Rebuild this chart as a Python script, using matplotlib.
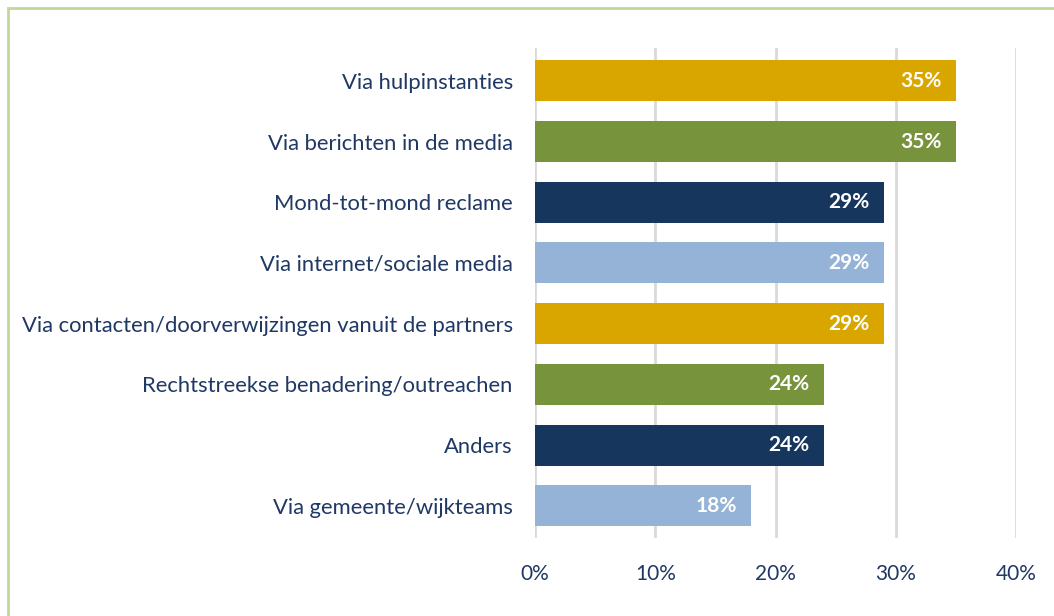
import matplotlib.pyplot as plt
from matplotlib.patches import Rectangle

# Data
categories = ['Via hulpinstanties', 'Via berichten in de media', 'Mond-tot-mond reclame',
              'Via internet/sociale media', 'Via contacten/doorverwijzingen vanuit de partners',
              'Rechtstreekse benadering/outreachen', 'Anders', 'Via gemeente/wijkteams']
values = [0.35, 0.35, 0.29, 0.29, 0.29, 0.24, 0.24, 0.18]
colors = ['#D9A600', '#77933C', '#17365D', '#95B3D7', '#D9A600', '#77933C', '#17365D', '#95B3D7']
ticks = [0, 0.1, 0.2, 0.3, 0.4]
tick_labels = ['0%', '10%', '20%', '30%', '40%']

plt.rcParams['font.family'] = ['Lato', 'DejaVu Sans']
text_color = '#1F3864'

fig = plt.figure(figsize=(10.54, 6.16), dpi=100)
ax = fig.add_axes([535 / 1054, 1 - 538 / 616, (1016 - 535) / 1054, (538 - 48) / 616])

pos = list(range(len(categories)))
ax.barh(pos, values, height=0.675, color=colors, zorder=3)
for p, v in zip(pos, values):
    ax.text(v - 0.012, p, f'{round(v * 100)}%', ha='right', va='center',
            color='white', fontsize=15, fontweight='bold', zorder=4)

ax.set_ylim(7.53, -0.54)
ax.set_xlim(0, 0.4)
ax.set_yticks(pos)
ax.set_yticklabels(categories, fontsize=15.8, color=text_color)
ax.set_xticks(ticks)
ax.set_xticklabels(tick_labels, fontsize=15, color=text_color)
ax.tick_params(axis='both', length=0)
ax.tick_params(axis='y', pad=16)
ax.tick_params(axis='x', pad=19)
ax.grid(axis='x', color='#D9D9D9', linewidth=2, zorder=0)
for s in ax.spines.values():
    s.set_visible(False)

fig.patches.append(Rectangle((8 / 1054, -0.1), 1.2, 1 - 8 / 616 + 0.1, transform=fig.transFigure,
                             fill=False, edgecolor='#C3D69B', linewidth=2))

fig.savefig('out.png', dpi=100)
